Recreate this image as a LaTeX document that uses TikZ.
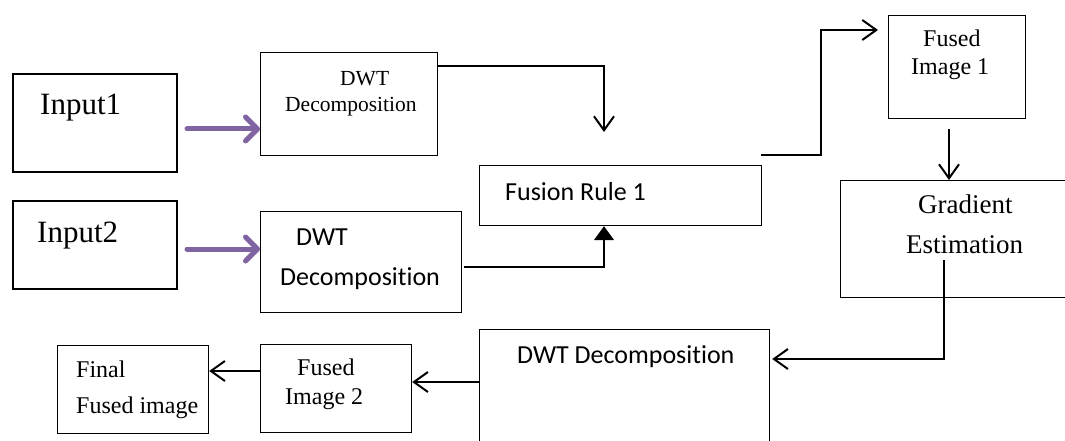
\documentclass[tikz,border=0pt]{standalone}
\usepackage{fontspec}
\setmainfont{Liberation Serif}
\newfontfamily\calib[Ligatures=NoCommon]{Carlito}
\usetikzlibrary{arrows.meta,calc}
\definecolor{flowpurple}{HTML}{8064A2}
\tikzset{
  box/.style={draw=black, line width=1.2pt, rectangle, inner sep=0pt, anchor=north west},
  inbox/.style={box, line width=2pt},
  lbl/.style={anchor=base west, inner sep=0pt},
  serif/.style={lbl, font=\fontsize{24}{28}\selectfont},
  sans/.style={lbl, font=\calib\fontsize{26}{30}\selectfont},
  link/.style={draw=black, line width=2pt,
    -{Straight Barb[length=14pt,width=20pt,line width=2pt]}},
  solidlink/.style={draw=black, line width=1.5pt,
    -{Triangle[length=14pt,width=20pt]}},
  feed/.style={draw=flowpurple, line width=5pt, line cap=round,
    -{Straight Barb[length=12pt,width=24pt,line width=5pt,round]}},
}
\begin{document}
\begin{tikzpicture}[x=1pt,y=-1pt]
\useasboundingbox (0,0) rectangle (1065,441);
\clip (0,0) rectangle (1065,441);

% boxes
\node[inbox, minimum width=164pt, minimum height=98pt] (in1) at (12,73) {};
\node[inbox, minimum width=164pt, minimum height=88pt] (in2) at (12,200) {};
\node[box, minimum width=177pt, minimum height=103pt] (dwt1) at (260,52) {};
\node[box, minimum width=201pt, minimum height=101pt] (dwt2) at (260,211) {};
\node[box, minimum width=282pt, minimum height=60pt] (fus) at (479,165) {};
\node[box, minimum width=137pt, minimum height=103pt] (fi1) at (888,15) {};
\node[box, minimum width=240pt, minimum height=117pt] (grad) at (840,180) {};
\node[box, minimum width=290pt, minimum height=130pt] (dwt3) at (479,329) {};
\node[box, minimum width=151pt, minimum height=88pt] (fi2) at (260,344) {};
\node[box, minimum width=151pt, minimum height=88pt] (fin) at (57,345) {};

% texts
\node[lbl, font=\fontsize{31}{34}\selectfont] (tin1) at (40,115) {Input1};
\node[lbl, font=\fontsize{31}{34}\selectfont] (tin2) at (37,242) {Input2};
\node[lbl, font=\fontsize{21.5}{24}\selectfont] (tdwt1a) at (340,86) {DWT};
\node[lbl, font=\fontsize{21.5}{24}\selectfont] (tdwt1b) at (285,112) {Decomposition};
\node[sans] (tdwt2a) at (296,245) {DWT};
\node[sans] (tdwt2b) at (280,285) {Decomposition};
\node[sans] (tfus) at (505,200) {Fusion Rule 1};
\node[serif] (tfi1a) at (923,47) {Fused};
\node[serif] (tfi1b) at (911,75) {Image 1};
\node[lbl, font=\fontsize{27}{30}\selectfont] (tgrada) at (918,213) {Gradient};
\node[lbl, font=\fontsize{27}{30}\selectfont] (tgradb) at (906,253) {Estimation};
\node[sans] (tdwt3) at (517,363) {DWT Decomposition};
\node[serif] (tfi2a) at (297,375) {Fused};
\node[serif] (tfi2b) at (285,404) {Image 2};
\node[serif] (tfina) at (76,377) {Final};
\node[serif] (tfinb) at (76,413) {Fused image};

% connector end points
\coordinate (p1) at (187,129);
\coordinate (p2) at (187,249);
\coordinate (q1) at ($(dwt1.north east)+(0,14)$);
\coordinate (q1e) at (604,132);
\coordinate (q2) at (464,267);
\coordinate (r1) at (761,155);
\coordinate (r2) at (821,30);
\coordinate (s1) at (949,129);
\coordinate (g1) at (944,260);
\coordinate (g2) at (944,359);
\coordinate (b1) at (479,382);
\coordinate (b2) at (260,371);

% connectors
\draw[feed] (p1) -- (p1 -| dwt1.west);
\draw[feed] (p2) -- (p2 -| dwt2.west);
\draw[link] (q1) -| (q1e);
\draw[solidlink] (q2) -| (q1e |- fus.south);
\draw[link, shorten >=10pt] (r1) -| (r2) -- (r2 -| fi1.west);
\draw[link] (s1) -- (s1 |- grad.north);
\draw[link, shorten >=2pt] (g1) -- (g2) -- (g2 -| dwt3.east);
\draw[link] (b1) -- (b1 -| fi2.east);
\draw[link] (b2) -- (b2 -| fin.east);
\end{tikzpicture}
\end{document}
